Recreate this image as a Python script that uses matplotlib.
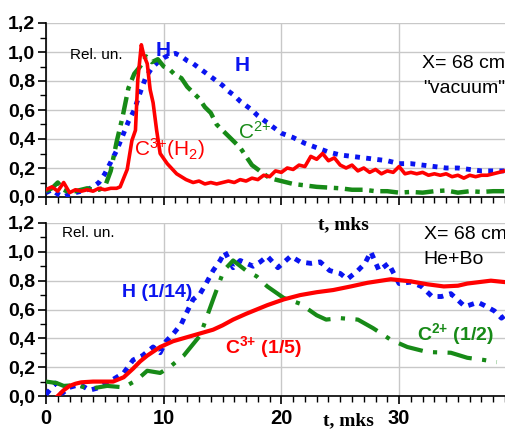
import matplotlib
matplotlib.use("Agg")
import matplotlib.pyplot as plt
from matplotlib.ticker import MultipleLocator, FuncFormatter

# ---------------- data (top panel: "vacuum") ----------------
top_red_t = [0, 0.5, 1, 1.5, 2, 2.5, 3, 3.5, 4, 4.5, 5, 5.5, 6, 6.3, 6.9, 7.3, 7.6, 7.8, 8.1, 8.3,
             8.6, 8.85, 9.1, 9.4, 9.7, 10.3, 11.1, 11.9, 12.5, 13, 13.5, 14, 14.5, 15,
             15.5, 16, 16.5, 17, 17.5, 18, 18.5, 19, 19.5, 20, 20.5, 21, 21.5, 22, 22.5, 23,
             23.5, 24, 24.5, 25, 25.5, 26, 26.5, 27, 27.5, 28, 28.5, 29, 29.5, 30, 30.5, 31,
             31.5, 32, 32.5, 33, 33.5, 34, 34.5, 35, 35.5, 36, 36.5, 37, 37.5, 38, 38.5, 39]
top_red_v = [0.05, 0.07, 0.04, 0.10, 0.03, 0.05, 0.04, 0.05, 0.04, 0.06, 0.05, 0.06, 0.06, 0.07,
             0.19, 0.39, 0.46, 0.81, 1.05, 0.98, 0.92, 0.74, 0.65, 0.46, 0.30, 0.23, 0.16, 0.12,
             0.10, 0.11, 0.09, 0.10, 0.09, 0.10, 0.11, 0.10, 0.12, 0.11, 0.13, 0.12,
             0.15, 0.14, 0.18, 0.17, 0.20, 0.19, 0.22, 0.21, 0.28, 0.26, 0.30, 0.25, 0.27, 0.22,
             0.20, 0.22, 0.18, 0.20, 0.17, 0.19, 0.16, 0.18, 0.17, 0.21, 0.16, 0.17, 0.16, 0.17,
             0.15, 0.16, 0.15, 0.16, 0.14, 0.15, 0.13, 0.15, 0.14, 0.15, 0.15, 0.16, 0.17, 0.18]

top_green_t = [0, 0.5, 1, 1.5, 2, 2.5, 3, 3.5, 4, 4.5, 5, 5.5, 6, 6.5, 7, 7.5, 8, 8.5, 9, 9.5,
               10, 10.5, 11, 11.5, 12, 12.5, 13, 13.5, 14, 14.5, 15, 15.5, 16, 16.5, 17, 17.5,
               18, 18.5, 19, 20, 21, 22, 23, 24, 25, 26, 27, 28, 29, 30, 31, 32, 33, 34, 35,
               36, 37, 38, 39]
top_green_v = [0.04, 0.06, 0.10, 0.05, 0.03, 0.04, 0.05, 0.06, 0.05, 0.05, 0.07, 0.18, 0.38,
               0.55, 0.75, 0.85, 0.90, 0.97, 0.93, 0.95, 0.90, 0.88, 0.84, 0.82, 0.76, 0.72,
               0.68, 0.62, 0.58, 0.50, 0.46, 0.42, 0.38, 0.34, 0.28, 0.22, 0.19, 0.16, 0.13,
               0.11, 0.09, 0.08, 0.07, 0.065, 0.06, 0.05, 0.05, 0.04, 0.04, 0.03, 0.035, 0.03,
               0.04, 0.045, 0.03, 0.04, 0.035, 0.04, 0.04]

top_blue_t = [0, 0.5, 1, 1.5, 2, 2.5, 3, 3.5, 4, 4.5, 5, 5.5, 6, 6.5, 7, 7.5, 8, 8.5, 9, 9.5,
              10, 10.5, 11, 11.5, 12, 12.5, 13, 13.5, 14, 14.5, 15, 15.5, 16, 16.5, 17, 17.5,
              18, 18.5, 19, 19.5, 20, 21, 22, 23, 24, 25, 26, 27, 28, 29, 30, 31, 32, 33, 34,
              35, 36, 37, 38, 39]
top_blue_v = [0.03, 0.05, 0.02, 0.00, 0.02, 0.03, 0.04, 0.05, 0.07, 0.10, 0.16, 0.24, 0.32,
              0.42, 0.52, 0.60, 0.72, 0.83, 0.89, 0.93, 0.96, 0.98, 0.99, 0.97, 0.94, 0.92,
              0.89, 0.86, 0.83, 0.80, 0.77, 0.73, 0.70, 0.66, 0.63, 0.60, 0.56, 0.53, 0.50,
              0.47, 0.44, 0.41, 0.37, 0.34, 0.31, 0.29, 0.28, 0.27, 0.26, 0.25, 0.23, 0.23,
              0.22, 0.21, 0.20, 0.20, 0.19, 0.18, 0.18, 0.18]

# ---------------- data (bottom panel: He+Bo) ----------------
bot_red_t = [1.0, 1.5, 2, 2.5, 3, 4, 5, 5.7, 6.6, 7.4, 8, 8.6, 9.7, 10.8, 12.5, 14.2, 15, 15.9,
             17, 17.9, 18.8, 20.2, 21.6, 23, 24.4, 25.9, 27.3, 29.3, 31, 32.4, 33.8, 35, 35.8,
             37.8, 39]
bot_red_v = [0.0, 0.04, 0.07, 0.085, 0.095, 0.10, 0.10, 0.10, 0.13, 0.19, 0.24, 0.28, 0.34,
             0.38, 0.42, 0.46, 0.49, 0.53, 0.57, 0.60, 0.63, 0.67, 0.70, 0.72, 0.735, 0.76,
             0.785, 0.81, 0.795, 0.775, 0.76, 0.765, 0.78, 0.80, 0.79]

bot_green_t = [0, 0.9, 1.5, 2.6, 3.7, 5.2, 6.6, 7.7, 8.6, 9.7, 10.5, 11.7, 13.1, 14.2, 15.1,
               15.9, 17, 17.9, 18.8, 20.2, 21.6, 23, 23.8, 25, 26.5, 27.8, 29.3, 30.7, 32.4,
               34.4, 35.8, 37.2, 38.3]
bot_green_v = [0.10, 0.09, 0.07, 0.076, 0.05, 0.07, 0.06, 0.11, 0.175, 0.16, 0.20, 0.28, 0.42,
               0.67, 0.87, 0.94, 0.87, 0.83, 0.76, 0.68, 0.64, 0.56, 0.53, 0.54, 0.53, 0.47,
               0.39, 0.34, 0.305, 0.30, 0.265, 0.25, 0.235]

bot_blue_t = [0, 0.4, 0.8, 1.4, 2, 2.9, 3.7, 4.6, 6.6, 7.4, 8.2, 9.1, 9.7, 10.2, 10.8, 11.5,
              11.9, 12.5, 13.1, 13.6, 14.2, 14.8, 15.2, 15.9, 16.5, 17.6, 18.2, 18.8, 19.7,
              20.8, 21.6, 22.5, 23.3, 24.1, 25, 25.6, 26.5, 27.1, 27.6, 28.3, 29.1, 30, 31,
              31.9, 32.8, 33.6, 34.4, 35.6, 36.7, 37.2, 38.1, 38.7, 39]
bot_blue_v = [0.01, 0.05, 0.09, 0.02, 0.06, 0.08, 0.04, 0.06, 0.16, 0.25, 0.28, 0.34, 0.30,
              0.38, 0.43, 0.50, 0.57, 0.67, 0.71, 0.78, 0.87, 0.94, 1.00, 0.89, 0.94, 0.90,
              0.93, 0.97, 0.89, 0.97, 0.93, 0.92, 0.93, 0.87, 0.85, 0.81, 0.87, 0.92, 1.00,
              0.87, 0.92, 0.78, 0.79, 0.76, 0.69, 0.69, 0.71, 0.62, 0.65, 0.63, 0.59, 0.54,
              0.56]

x_ticks = [0, 10, 20, 30]
x_tick_labels = ["0", "10", "20", "30"]

# ---------------- styling ----------------
RED = "#FF0000"
GREEN = "#178A17"
BLUE = "#0A14F0"
SANS = ["Liberation Sans", "DejaVu Sans"]
SERIF = ["Liberation Serif", "DejaVu Serif"]

plt.rcParams["font.family"] = SANS
plt.rcParams["mathtext.fontset"] = "custom"
plt.rcParams["mathtext.rm"] = "Liberation Sans"
plt.rcParams["mathtext.bf"] = "Liberation Sans:bold"
plt.rcParams["mathtext.it"] = "Liberation Sans:italic"

fig = plt.figure(figsize=(5.06, 4.30), dpi=100)
W, H = 506.0, 430.0

def ax_rect(left, top, right, bottom):
    return [left / W, 1 - bottom / H, (right - left) / W, (bottom - top) / H]

ax1 = fig.add_axes(ax_rect(46, 23, 505, 197))
ax2 = fig.add_axes(ax_rect(46, 223, 505, 396))

fmt = FuncFormatter(lambda v, p: f"{v:.1f}".replace(".", ","))

for ax in (ax1, ax2):
    ax.set_xlim(0, 39)
    ax.set_ylim(0, 1.2)
    ax.spines["top"].set_visible(False)
    ax.spines["right"].set_visible(False)
    ax.spines["left"].set_linewidth(1.2)
    ax.spines["bottom"].set_linewidth(1.2)
    ax.set_xticks(x_ticks)
    ax.xaxis.set_minor_locator(MultipleLocator(1))
    ax.yaxis.set_major_locator(MultipleLocator(0.2))
    ax.yaxis.set_minor_locator(MultipleLocator(0.1))
    ax.yaxis.set_major_formatter(fmt)
    ax.tick_params(axis="both", which="major", direction="out", length=6, width=1.2,
                   labelsize=14)
    ax.tick_params(axis="both", which="minor", direction="out", length=4, width=1.0)
    ax.grid(True, which="major", color="#C8C8C8", linewidth=1.0)
    ax.set_axisbelow(True)
    for lab in ax.get_yticklabels():
        lab.set_fontweight("bold")
    ax.tick_params(axis="y", pad=2)

ax1.tick_params(axis="x", labelbottom=False)
ax2.set_xticklabels(x_tick_labels, fontweight="bold", fontsize=14.5)
ax2.tick_params(axis="x", pad=3)

# ---- top panel lines ----
ax1.plot(top_blue_t, top_blue_v, color=BLUE, lw=3.5, linestyle=(0, (1.0, 1.3)),
         dash_capstyle="butt", zorder=3)
ax1.plot(top_green_t, top_green_v, color=GREEN, lw=3.2, linestyle=(0, (4, 1.5, 1, 1.5)),
         dash_capstyle="butt", zorder=4)
ax1.plot(top_red_t, top_red_v, color=RED, lw=2.6, zorder=5)

ax1.text(2.0, 0.98, "Rel. un.", fontsize=11, ha="left", va="center", color="black")
ax1.text(9.3, 1.01, "H", fontsize=15, fontweight="bold", color=BLUE, ha="left", va="center")
ax1.text(16.0, 0.91, "H", fontsize=15, fontweight="bold", color=BLUE, ha="left", va="center")
ax1.text(7.5, 0.33, r"C$^{3{+}}$(H$_2$)", fontsize=15, color=RED, ha="left", va="center")
ax1.text(16.3, 0.45, r"C$^{2{+}}$", fontsize=15, color=GREEN, ha="left", va="center")
ax1.text(39, 0.92, "X= 68 cm", fontsize=14, ha="right", va="center", color="black")
ax1.text(39, 0.75, "\"vacuum\"", fontsize=14, ha="right", va="center", color="black")

# ---- bottom panel lines ----
ax2.plot(bot_blue_t, bot_blue_v, color=BLUE, lw=3.5, linestyle=(0, (1.2, 1.3)),
         dash_capstyle="butt", zorder=3)
ax2.plot(bot_green_t, bot_green_v, color=GREEN, lw=3.0, linestyle=(0, (6, 2.5, 1, 2.5)),
         dash_capstyle="butt", zorder=4)
ax2.plot(bot_red_t, bot_red_v, color=RED, lw=3.0, zorder=5)

ax2.text(1.4, 1.13, "Rel. un.", fontsize=11, ha="left", va="center", color="black")
ax2.text(6.5, 0.72, "H (1/14)", fontsize=14, fontweight="bold", color=BLUE, ha="left", va="center")
ax2.text(15.2, 0.34, r"$\mathbf{C^{3{+}}}$ (1/5)", fontsize=14, fontweight="bold", color=RED,
         ha="left", va="center")
ax2.text(31.5, 0.43, r"$\mathbf{C^{2{+}}}$ (1/2)", fontsize=14, fontweight="bold", color=GREEN,
         ha="left", va="center")
ax2.text(32.1, 1.12, "X= 68 cm", fontsize=14, ha="left", va="center", color="black")
ax2.text(32.1, 0.95, "He+Bo", fontsize=14, ha="left", va="center", color="black")
ax2.text(25.3, 1.19, "t, mks", fontsize=14, fontweight="bold", family=SERIF,
         ha="center", va="center", color="black")

fig.text(348 / W, 1 - 421 / H, "t, mks", fontsize=14, fontweight="bold", family=SERIF,
         ha="center", va="center", color="black")

fig.savefig("out.png", dpi=100)
